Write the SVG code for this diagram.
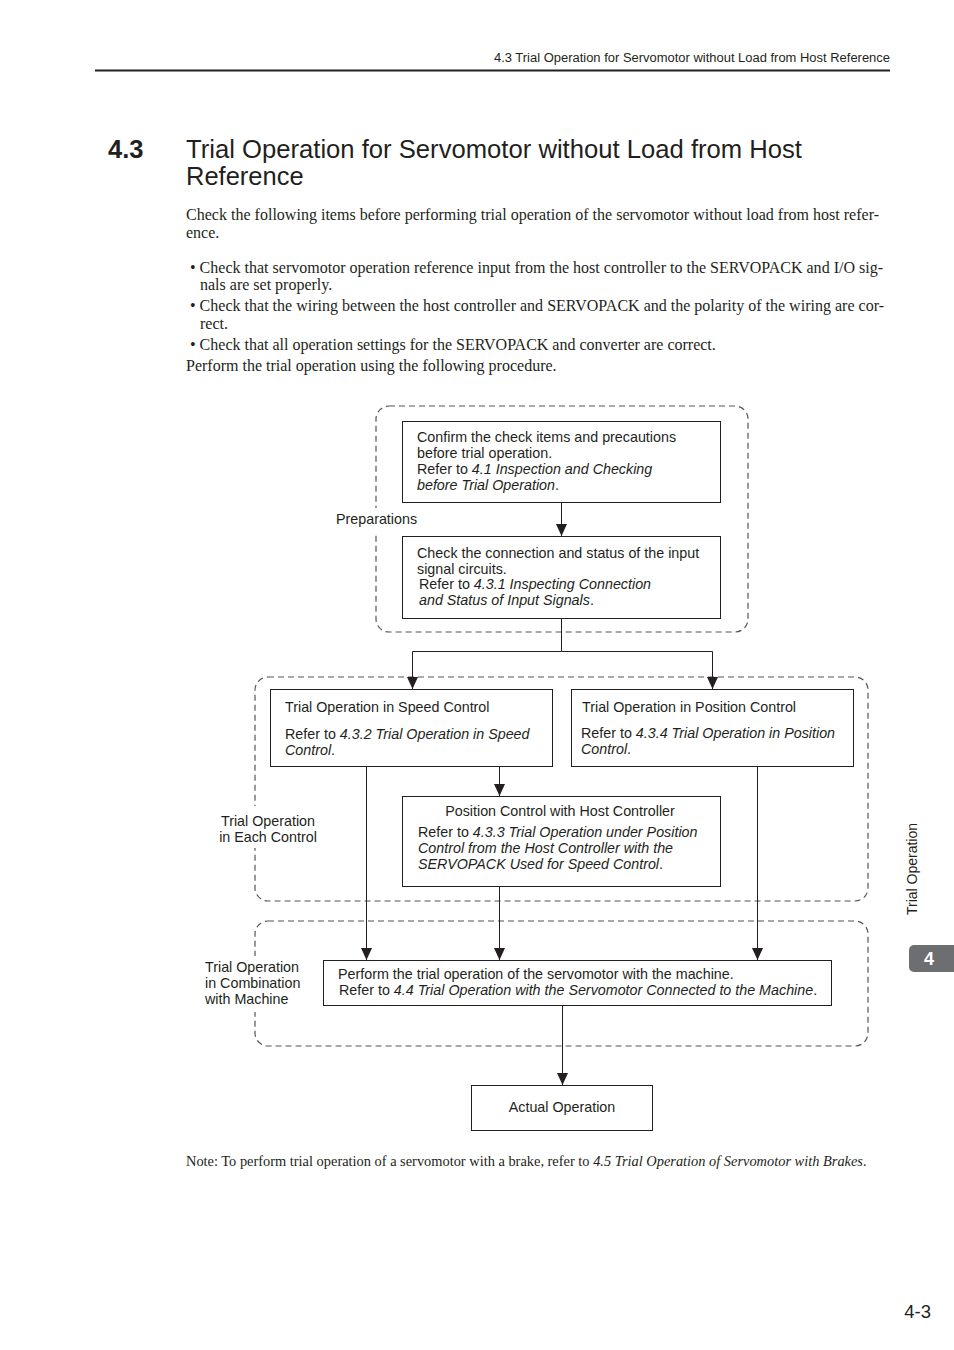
<svg xmlns="http://www.w3.org/2000/svg" width="954" height="1350" viewBox="0 0 954 1350">
<style>
.sans{font-family:"Liberation Sans",Arial,sans-serif;fill:#231f20}
.serif{font-family:"Liberation Serif","Times New Roman",serif;fill:#231f20}
.d{font-size:14.3px}
.box{fill:#fff;stroke:#231f20;stroke-width:1}
.grp{fill:none;stroke:#555;stroke-width:1.2;stroke-dasharray:6 4}
.conn{fill:none;stroke:#231f20;stroke-width:1}
.it{font-style:italic}
</style>
<defs>
<marker id="ah" markerWidth="14" markerHeight="12" refX="12" refY="5.5" orient="auto" markerUnits="userSpaceOnUse">
<path d="M0,0 L12,5.5 L0,11 Z" fill="#231f20"/>
</marker>
</defs>
<rect width="954" height="1350" fill="#fff"/>

<!-- header -->
<text class="sans" x="890" y="62" font-size="12.5" text-anchor="end" textLength="396" lengthAdjust="spacingAndGlyphs">4.3  Trial Operation for Servomotor without Load from Host Reference</text>
<line x1="95" y1="70.5" x2="890" y2="70.5" stroke="#231f20" stroke-width="2"/>

<!-- title -->
<text class="sans" x="108" y="158" font-size="25.5" font-weight="bold">4.3</text>
<text class="sans" x="186" y="158" font-size="25.5" textLength="616" lengthAdjust="spacingAndGlyphs">Trial Operation for Servomotor without Load from Host</text>
<text class="sans" x="186" y="185" font-size="25.5">Reference</text>

<!-- body -->
<g class="serif" font-size="16">
<text x="186" y="220" textLength="693" lengthAdjust="spacing">Check the following items before performing trial operation of the servomotor without load from host refer-</text>
<text x="186" y="238">ence.</text>
<text x="190" y="273" textLength="693" lengthAdjust="spacing">• Check that servomotor operation reference input from the host controller to the SERVOPACK and I/O sig-</text>
<text x="200" y="290">nals are set properly.</text>
<text x="190" y="311" textLength="694" lengthAdjust="spacing">• Check that the wiring between the host controller and SERVOPACK and the polarity of the wiring are cor-</text>
<text x="200" y="329">rect.</text>
<text x="190" y="350">• Check that all operation settings for the SERVOPACK and converter are correct.</text>
<text x="186" y="371">Perform the trial operation using the following procedure.</text>
</g>

<!-- groups -->
<g id="group-preparations">
<rect class="grp" x="376" y="406" width="372" height="226" rx="13"/>
<rect x="334" y="508" width="86" height="24" fill="#fff"/>
<text class="sans d" x="336" y="524">Preparations</text>
</g>
<g id="group-each-control">
<rect class="grp" x="255" y="677" width="613" height="224" rx="13"/>
<rect x="213" y="806" width="110" height="42" fill="#fff"/>
<text class="sans d" x="268" y="826" text-anchor="middle">Trial Operation</text>
<text class="sans d" x="268" y="842" text-anchor="middle">in Each Control</text>
</g>
<g id="group-combination">
<rect class="grp" x="255" y="921" width="613" height="125" rx="13"/>
<rect x="203" y="956" width="106" height="56" fill="#fff"/>
<text class="sans d" x="205" y="972">Trial Operation</text>
<text class="sans d" x="205" y="988">in Combination</text>
<text class="sans d" x="205" y="1004">with Machine</text>
</g>

<!-- connectors -->
<g id="connectors">
<line class="conn" x1="561.5" y1="502" x2="561.5" y2="536" marker-end="url(#ah)"/>
<polyline class="conn" points="561.5,618 561.5,651.5 412.5,651.5 412.5,689" marker-end="url(#ah)"/>
<polyline class="conn" points="561.5,651.5 712.5,651.5 712.5,689" marker-end="url(#ah)"/>
<line class="conn" x1="499.5" y1="766" x2="499.5" y2="796" marker-end="url(#ah)"/>
<line class="conn" x1="366.5" y1="766" x2="366.5" y2="960" marker-end="url(#ah)"/>
<line class="conn" x1="499.5" y1="886" x2="499.5" y2="960" marker-end="url(#ah)"/>
<line class="conn" x1="757.5" y1="766" x2="757.5" y2="960" marker-end="url(#ah)"/>
<line class="conn" x1="562.5" y1="1005" x2="562.5" y2="1085" marker-end="url(#ah)"/>
</g>

<!-- nodes -->
<g id="node-confirm">
<rect class="box" x="402.5" y="421.5" width="318" height="81"/>
<text class="sans d" x="417" y="442">Confirm the check items and precautions</text>
<text class="sans d" x="417" y="458">before trial operation.</text>
<text class="sans d" x="417" y="474">Refer to <tspan class="it">4.1 Inspection and Checking</tspan></text>
<text class="sans d" x="417" y="490"><tspan class="it">before Trial Operation</tspan>.</text>
</g>
<g id="node-check-connection">
<rect class="box" x="402.5" y="536.5" width="318" height="82"/>
<text class="sans d" x="417" y="558">Check the connection and status of the input</text>
<text class="sans d" x="417" y="574">signal circuits.</text>
<text class="sans d" x="419" y="589">Refer to <tspan class="it">4.3.1 Inspecting Connection</tspan></text>
<text class="sans d" x="419" y="605"><tspan class="it">and Status of Input Signals</tspan>.</text>
</g>
<g id="node-speed">
<rect class="box" x="270.5" y="689.5" width="282" height="77"/>
<text class="sans d" x="285" y="712">Trial Operation in Speed Control</text>
<text class="sans d" x="285" y="739">Refer to <tspan class="it">4.3.2 Trial Operation in Speed</tspan></text>
<text class="sans d" x="285" y="755"><tspan class="it">Control</tspan>.</text>
</g>
<g id="node-position">
<rect class="box" x="571.5" y="689.5" width="282" height="77"/>
<text class="sans d" x="582" y="712">Trial Operation in Position Control</text>
<text class="sans d" x="581" y="738">Refer to <tspan class="it">4.3.4 Trial Operation in Position</tspan></text>
<text class="sans d" x="581" y="754"><tspan class="it">Control</tspan>.</text>
</g>
<g id="node-host">
<rect class="box" x="402.5" y="796.5" width="318" height="90"/>
<text class="sans d" x="560" y="816" text-anchor="middle">Position Control with Host Controller</text>
<text class="sans d" x="418" y="837">Refer to <tspan class="it">4.3.3 Trial Operation under Position</tspan></text>
<text class="sans d" x="418" y="853"><tspan class="it">Control from the Host Controller with the</tspan></text>
<text class="sans d" x="418" y="869"><tspan class="it">SERVOPACK Used for Speed Control</tspan>.</text>
</g>
<g id="node-machine">
<rect class="box" x="323.5" y="960.5" width="508" height="45"/>
<text class="sans d" x="338" y="979">Perform the trial operation of the servomotor with the machine.</text>
<text class="sans d" x="339" y="995">Refer to <tspan class="it">4.4 Trial Operation with the Servomotor Connected to the Machine</tspan>.</text>
</g>
<g id="node-actual">
<rect class="box" x="471.5" y="1085.5" width="181" height="45"/>
<text class="sans d" x="562" y="1112" text-anchor="middle">Actual Operation</text>
</g>

<!-- note -->
<text class="serif" x="186" y="1166" font-size="14.4">Note: To perform trial operation of a servomotor with a brake, refer to <tspan font-style="italic">4.5 Trial Operation of Servomotor with Brakes</tspan>.</text>

<!-- side tab -->
<text class="sans" font-size="14" transform="translate(917,869) rotate(-90)" text-anchor="middle">Trial Operation</text>
<rect x="909" y="945" width="60" height="27" rx="5" fill="#6d6e71"/>
<text x="929" y="965" font-family="Liberation Sans,Arial,sans-serif" font-size="18" font-weight="bold" fill="#fff" text-anchor="middle">4</text>

<!-- page number -->
<text class="sans" x="931" y="1318" font-size="18.5" text-anchor="end">4-3</text>
</svg>
